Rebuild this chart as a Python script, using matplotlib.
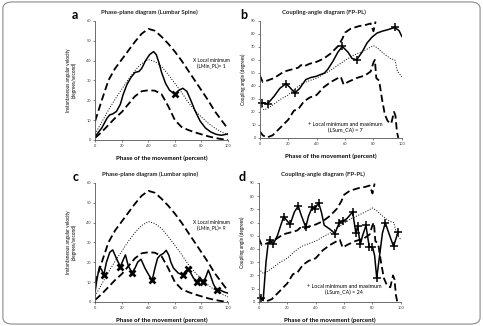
"""
Phase-plane and coupling-angle diagrams (lumbar spine / FP-PL), four panels.
"""
import matplotlib
matplotlib.use("Agg")
import matplotlib.pyplot as plt
from matplotlib.patches import FancyBboxPatch

plt.rcParams['font.family'] = ['Lato', 'DejaVu Sans']

# ---- data: phase-plane envelopes (shared by panels a and c) ----
pp_x = [0, 5, 10, 15, 20, 25, 30, 35, 40, 45, 50, 55, 60, 65, 70, 75, 80, 85, 90, 95, 100]
pp_upper = [9.5, 20, 30, 36, 40.5, 45, 49.5, 53.5, 56, 55, 52, 48.5, 44.5, 40, 35, 30, 25, 20, 14.5, 10, 5.5]
pp_mean = [3, 9, 15, 20.5, 25.5, 30.5, 35, 38.5, 40.5, 39.5, 37, 33, 28.5, 24, 19, 15, 11.5, 8.5, 6, 4, 2.5]
pp_lower = [1, 4, 7.5, 11, 14, 18, 22, 24.5, 25, 24.8, 23, 17, 10, 6.5, 5, 3.8, 2.8, 1.8, 1, 0.4, 0]

# panel a subject curve
a_x = [0, 5, 9, 11, 13, 16, 19, 21, 24, 27, 30, 33, 35, 38, 41, 44, 46, 48, 50, 53, 56, 60,
       63, 66, 69, 72, 75, 79, 83, 87, 91, 95, 100]
a_y = [1.7, 6, 11, 12.6, 13, 14.3, 18, 22.7, 28, 31.5, 34, 34.5, 36, 40, 43, 44.5, 43, 39, 34, 28.5, 25, 23,
       25, 26, 24.5, 20, 15, 9.5, 6, 4, 2.8, 2.3, 3]
a_min_x = [60]
a_min_y = [23]

# panel c subject curve
c_x = [0, 1.5, 3.3, 5, 6.5, 8.5, 11, 13.2, 15, 16.5, 19, 21, 22.8, 25, 27.8, 30, 32, 34.5, 37.5, 40,
       42.9, 45, 47, 49, 51.5, 53.5, 55.5, 57, 59, 62.6, 65.9, 68, 70.2, 72, 74, 76.4, 78.8, 80.9, 83,
       85.2, 87, 89, 91.5, 94, 97, 100]
c_y = [5.2, 12, 17.8, 16, 13.6, 20, 25, 26.2, 23.5, 21.2, 17.8, 21, 23.7, 18, 14.8, 17, 20, 21.5, 17, 14,
       10.8, 17, 22, 23.5, 24.5, 26, 23.5, 20, 17, 14.5, 13.6, 15.5, 16.5, 14.5, 12, 10.2, 12.5, 10.2, 12,
       16, 13, 9, 6, 6, 5, 4.4]
c_min_x = [6.5, 19, 27.8, 42.9, 65.9, 70.2, 76.4, 80.9, 91.5]
c_min_y = [13.6, 17.8, 14.8, 10.8, 13.6, 16.5, 10.2, 10.2, 6]

# ---- data: coupling-angle envelopes (shared by panels b and d) ----
ca_up_x = [0, 2, 5, 10, 17, 22, 27, 29, 31, 35, 40, 45, 50, 55, 58, 60, 64, 70, 75, 78, 80, 81.5]
ca_up_y = [48, 43, 44, 46, 51, 52.5, 54, 56, 55, 57, 58.5, 61, 65, 70.5, 76, 81, 84, 86, 87, 88, 82, 89.5]
ca_mean_x = [0, 3, 6, 10, 15, 20, 25, 30, 35, 40, 45, 50, 55, 60, 65, 70, 75, 80, 83, 87, 92, 95, 97, 100]
ca_mean_y = [25, 21.5, 23, 26, 30, 33, 38, 42, 44, 46, 49, 52, 56, 59.5, 63, 65.5, 68, 71, 69, 65, 61, 60, 51, 47]
ca_lo_x = [0, 2, 5, 9, 15, 20, 24, 27, 31, 35, 40, 45, 50, 55, 57, 59, 62, 68, 74, 78, 80, 81, 82, 84,
           86, 88, 90, 92.5, 94.5, 95.5, 96.5, 97.5]
ca_lo_y = [5, 2, 0.3, 2, 8.5, 14, 21, 22, 28, 31, 33, 39, 43, 46, 47, 41, 43, 46, 48, 51, 58, 60, 46, 44,
           30, 18, 13, 11, 20, 17, 5, 0]

# panel b subject curve
b_x = [0, 1.7, 5.5, 10, 14, 18.4, 21, 24.6, 28, 32.3, 36, 39.5, 45.5, 48, 51.4, 55, 58.1, 62, 65, 68.2,
       72, 75.4, 79, 82.5, 86, 89.7, 95, 98, 100]
b_y = [27, 26.9, 26.3, 32, 38, 41.7, 39, 34.5, 38, 44.8, 46.5, 47.3, 49.9, 53, 58.8, 66, 70.3, 66, 61, 60.1,
       66, 72.9, 77.5, 80.6, 82, 83.1, 84.9, 82.5, 78]
b_ext_x = [1.7, 5.5, 18.4, 24.6, 58.1, 68.2, 95]
b_ext_y = [26.9, 26.3, 41.7, 34.5, 70.3, 60.1, 84.9]

# panel d subject curve
d_x = [0, 1.4, 3, 5, 6.5, 8, 10, 13, 17.4, 22, 25, 27.7, 30, 33, 35, 37.5, 39.5, 42, 44, 46, 50, 53.5,
       56.6, 59, 62, 66, 68.3, 69.5, 71.4, 73, 75.4, 77.7, 80, 81.5, 83, 85, 87, 89, 91.5, 94.8, 98]
d_y = [5, 2.8, 1, 30, 44, 46.7, 43.4, 50, 64.4, 58.6, 68, 72.5, 65, 56.5, 65, 71.5, 70.5, 75, 68, 58, 55, 51.7,
       59.8, 61, 63, 68, 52, 57.3, 43.4, 50, 57.8, 41.6, 41.6, 35, 18, 35, 52, 59.8, 52, 42, 52.7]
d_ext_x = [1.4, 8, 10, 17.4, 22, 27.7, 33, 37.5, 39.5, 42, 53.5, 56.6, 59, 66, 68.3, 69.5, 71.4, 75.4,
           77.7, 80, 83, 89, 94.8, 98]
d_ext_y = [2.8, 46.7, 43.4, 64.4, 58.6, 72.5, 56.5, 71.5, 70.5, 75, 51.7, 59.8, 61, 68, 52, 57.3, 43.4, 57.8,
           41.6, 41.6, 18, 59.8, 42, 52.7]

DASH = (0, (4, 2))


def style_axes(ax, ymax, ystep, ylabel, label_x):
    ax.set_xlim(0, 100)
    ax.set_ylim(0, ymax)
    ax.set_xticks(range(0, 101, 20))
    ax.set_yticks(range(0, ymax + 1, ystep))
    for s in ['top', 'right']:
        ax.spines[s].set_visible(False)
    for s in ['left', 'bottom']:
        ax.spines[s].set_linewidth(0.6)
        ax.spines[s].set_color('#555555')
    ax.tick_params(labelsize=2.8, length=1.5, width=0.5, pad=1.5, colors='#555555', labelcolor='#333333')
    ax.set_xlabel('Phase of the movement (percent)', fontsize=4.4, fontweight='bold')
    ax.xaxis.set_label_coords(0.5, -0.135)
    ax.set_ylabel(ylabel, fontsize=3.4, linespacing=1.1)
    ax.yaxis.set_label_coords(label_x, 0.5)


def phase_panel(ax, x, y, mx, my, title, count, letter):
    ax.plot(pp_x, pp_upper, color='black', lw=1.3, ls=DASH)
    ax.plot(pp_x, pp_lower, color='black', lw=1.3, ls=DASH)
    ax.plot(pp_x, pp_mean, color='black', lw=0.7, ls=':')
    ax.plot(x, y, color='black', lw=1.1)
    ax.plot(mx, my, ls='none', marker='x', ms=4.8, mew=1.9, color='black')
    style_axes(ax, 60, 10, 'Instantaneous angular velocity\n(degrees/second)', -0.14)
    ax.text(0.41, 1.07, title, transform=ax.transAxes, ha='center', va='center', fontsize=4.3, fontweight='bold',
            color='#222222')
    ax.text(87.5, 40, 'X Local minimum', ha='center', va='center', fontsize=3.5)
    ax.text(87.5, 37, f'(LMin_PL)= {count}', ha='center', va='center', fontsize=3.5)
    ax.text(-0.15, 1.05, letter, transform=ax.transAxes, ha='center', va='center', fontsize=9, fontweight='bold')


def coupling_panel(ax, x, y, ex, ey, count, letter, txt_y):
    ax.plot(ca_up_x, ca_up_y, color='black', lw=1.3, ls=DASH)
    ax.plot(ca_lo_x, ca_lo_y, color='black', lw=1.3, ls=DASH)
    ax.plot(ca_mean_x, ca_mean_y, color='black', lw=0.7, ls=':')
    ax.plot(x, y, color='black', lw=1.1)
    ax.plot(ex, ey, ls='none', marker='+', ms=5.5, mew=1.1, color='black', clip_on=False)
    style_axes(ax, 90, 10, 'Coupling angle (degrees)', -0.1)
    ax.text(0.45, 1.075, 'Coupling-angle diagram (FP-PL)', transform=ax.transAxes, ha='center', va='center',
            fontsize=4.3, fontweight='bold', color='#222222')
    ax.text(60, txt_y, '+ Local minimum and maximum', ha='center', va='center', fontsize=3.9)
    ax.text(60, txt_y - 5, f'(LSum_CA) = {count}', ha='center', va='center', fontsize=3.9)
    ax.text(-0.115, 1.05, letter, transform=ax.transAxes, ha='center', va='center', fontsize=9, fontweight='bold')


fig = plt.figure(figsize=(4.83, 3.26), dpi=100)

ax_a = fig.add_axes([0.197, 0.571, 0.275, 0.365])
ax_b = fig.add_axes([0.538, 0.577, 0.294, 0.359])
ax_c = fig.add_axes([0.197, 0.074, 0.275, 0.365])
ax_d = fig.add_axes([0.536, 0.074, 0.294, 0.365])

phase_panel(ax_a, a_x, a_y, a_min_x, a_min_y, 'Phase-plane diagram (Lumbar Spine)', 1, 'a')
coupling_panel(ax_b, b_x, b_y, b_ext_x, b_ext_y, 7, 'b', 10.5)
phase_panel(ax_c, c_x, c_y, c_min_x, c_min_y, 'Phase-plane diagram (Lumbar spine)', 9, 'c')
coupling_panel(ax_d, d_x, d_y, d_ext_x, d_ext_y, 24, 'd', 12)

# rounded frame around the whole figure
frame = FancyBboxPatch((0.006, 0.006), 0.988, 0.988, boxstyle='round,pad=0,rounding_size=0.02',
                       transform=fig.transFigure, fill=False, edgecolor='#8a8a8a', lw=0.8)
fig.patches.append(frame)

fig.savefig('out.png', dpi=100)
